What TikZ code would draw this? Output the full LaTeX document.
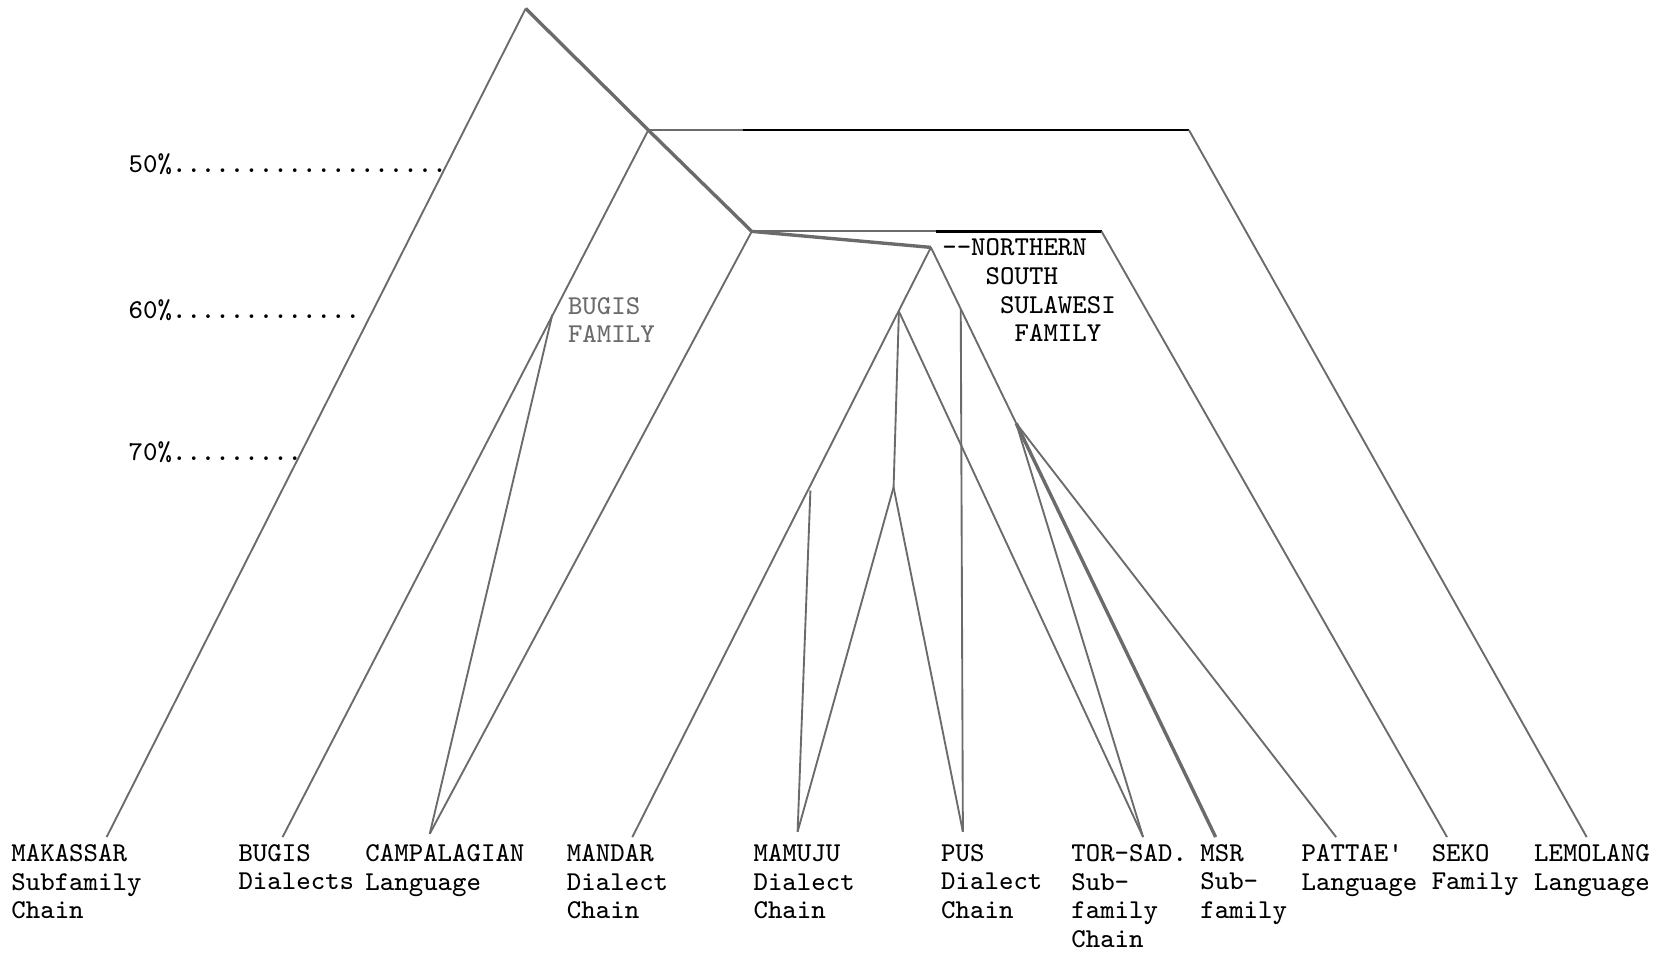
\documentclass[tikz,border=0pt]{standalone}
\definecolor{treegray}{gray}{0.42}
\begin{document}
\begin{tikzpicture}[x=0.01cm, y=-0.01cm,
    rama/.style={draw=treegray, line width=0.5pt},
    tronco/.style={draw=treegray, line width=0.9pt},
    cierre/.style={draw=black, line width=0.7pt},
    etiq/.style={font=\ttfamily\fontsize{7.26}{7.68}\selectfont, inner sep=0pt, anchor=north west, align=left}]

    \useasboundingbox (0,0) rectangle (1568,894);

    % Escala
    \node[etiq] (p50) at (120,143) {50\%...................};
    \node[etiq] (p60) at (120,280) {60\%.............};
    \node[etiq] (p70) at (120,413) {70\%.........};

    % Hojas
    \node[etiq] (mak) at (10,791) {MAKASSAR\\Subfamily\\Chain};
    \node[etiq] (bug) at (223,791) {BUGIS\\Dialects};
    \node[etiq] (cam) at (342,791) {CAMPALAGIAN\\Language};
    \node[etiq] (man) at (531,791) {MANDAR\\Dialect\\Chain};
    \node[etiq] (mam) at (706,791) {MAMUJU\\Dialect\\Chain};
    \node[etiq] (pus) at (882,791) {PUS\\Dialect\\Chain};
    \node[etiq] (tor) at (1004,791) {TOR-SAD.\\Sub-\\family\\Chain};
    \node[etiq] (msr) at (1125,791) {MSR\\Sub-\\family};
    \node[etiq] (pat) at (1220,791) {PATTAE\textquotesingle\\Language};
    \node[etiq] (sek) at (1342,791) {SEKO\\Family};
    \node[etiq] (lem) at (1438,791) {LEMOLANG\\Language};

    % Puntas de las ramas
    \coordinate (tMak) at (100,785);
    \coordinate (tBug) at (265,785);
    \coordinate (tCam) at (403,782);
    \coordinate (tMan) at (593,785);
    \coordinate (tMam) at (748,780);
    \coordinate (tPus) at (903,780);
    \coordinate (tTor) at (1072,785);
    \coordinate (tMsr) at (1140,785);
    \coordinate (tPat) at (1253,785);
    \coordinate (tSek) at (1357,785);
    \coordinate (tLem) at (1488,785);

    % Nudos
    \coordinate (raiz) at (493,8);
    \coordinate (sul) at (608,122);
    \coordinate (bugis) at (518,295);
    \coordinate (centro) at (705,217);
    \coordinate (norte) at (873,232);
    \coordinate (mandar) at (843,292);
    \coordinate (mamuju) at (838,457);
    \coordinate (mamA) at (760,460);
    \coordinate (pusA) at (901,290);
    \coordinate (torsad) at (953,397);
    \coordinate (lemG) at (697,122);
    \coordinate (lemK) at (1115,122);
    \coordinate (sekG) at (878,217);
    \coordinate (sekK) at (1033,217);

    % Tronco
    \draw[tronco] (raiz) -- (sul) -- (centro) -- (norte);
    \draw[rama] (raiz) -- (tMak);
    % Familia Bugis
    \draw[rama] (sul) -- (tBug);
    \draw[rama] (bugis) -- (tCam);
    \draw[rama] (centro) -- (tCam);
    % Lemolang y Seko
    \draw[rama] (sul) -- (lemG);
    \draw[cierre] (lemG) -- (lemK);
    \draw[rama] (lemK) -- (tLem);
    \draw[rama] (centro) -- (sekG);
    \draw[cierre] (sekG) -- (sekK);
    \draw[rama] (sekK) -- (tSek);
    % Norte de Sulawesi del Sur
    \draw[rama] (norte) -- (tMan);
    \draw[rama] (mandar) -- (mamuju);
    \draw[rama] (mamuju) -- (tMam);
    \draw[rama] (mamuju) -- (tPus);
    \draw[rama] (mamA) -- (tMam);
    \draw[rama] (mandar) -- (tTor);
    \draw[rama] (norte) -- (torsad);
    \draw[tronco] (torsad) -- (tMsr);
    \draw[rama] (pusA) -- (tPus);
    \draw[rama] (torsad) -- (tTor);
    \draw[rama] (torsad) -- (tPat);

    % Rotulos de familias
    \node[etiq, text=treegray] (fbug) at (532,278) {BUGIS\\FAMILY};
    \node[etiq] (fnss) at (883,223) {\hbox{-}\hbox{-}NORTHERN\\\phantom{xxx}SOUTH\\\phantom{xxxx}SULAWESI\\\phantom{xxxxx}FAMILY};
\end{tikzpicture}
\end{document}
